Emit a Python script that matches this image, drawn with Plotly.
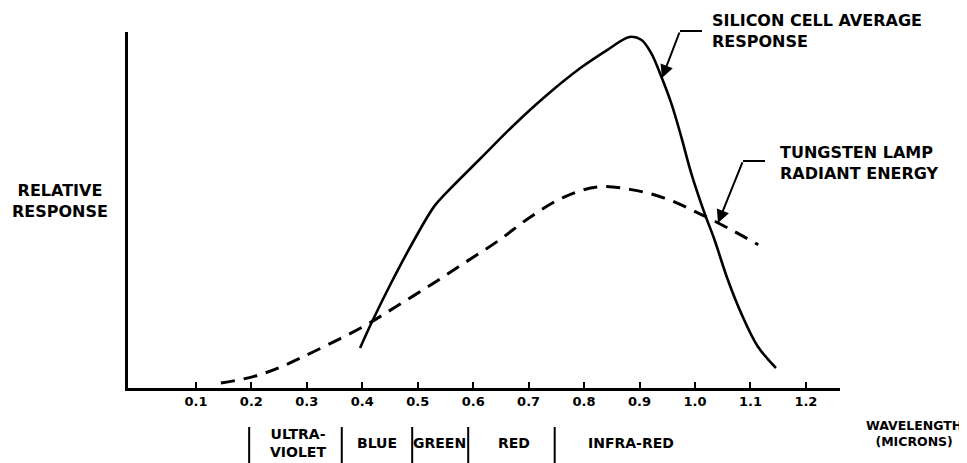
import plotly.graph_objects as go

# ---- data ----
si_x = [0.396, 0.418, 0.452, 0.494, 0.530, 0.554, 0.614, 0.674, 0.734, 0.794, 0.843, 0.882,
        0.903, 0.921, 0.939, 0.957, 0.975, 0.993, 1.017, 1.035, 1.059, 1.083, 1.113, 1.146]
si_y = [11.4, 19.0, 29.9, 42.3, 51.8, 56.0, 65.5, 75.0, 83.6, 91.2, 96.4, 100.0,
        99.2, 95.4, 88.8, 81.2, 71.7, 61.3, 49.9, 42.3, 30.9, 21.4, 11.9, 5.7]

w_x = [0.145, 0.205, 0.253, 0.313, 0.403, 0.464, 0.524, 0.584, 0.644, 0.704, 0.764,
       0.825, 0.885, 0.945, 1.005, 1.065, 1.114]
w_y = [1.4, 3.3, 6.0, 10.4, 17.6, 23.5, 29.4, 35.6, 41.8, 48.8, 54.4,
       57.3, 56.5, 54.1, 49.9, 45.1, 40.8]

tick_vals = [0.1, 0.2, 0.3, 0.4, 0.5, 0.6, 0.7, 0.8, 0.9, 1.0, 1.1, 1.2]
tick_text = ["0.1", "0.2", "0.3", "0.4", "0.5", "0.6", "0.7", "0.8", "0.9", "1.0", "1.1", "1.2"]

band_edges = [0.196, 0.363, 0.490, 0.591, 0.747]
band_names = ["ULTRA-<br>VIOLET", "BLUE", "GREEN", "RED", "INFRA-RED"]
band_label_x = [0.284, 0.427, 0.540, 0.674, 0.885]

X_MIN, X_MAX = -0.0225, 1.2615
Y_MIN, Y_MAX = 0.0, 101.4

FONT = "DejaVu Sans"
BLACK = "#000000"

# The page body adds an 8px margin, so the figure is shrunk and shifted to keep the
# plot area where the reference has it (left 128, top 32, right 840, bottom 388).
OFF = 8
W, H = 967 - OFF, 463 - OFF
PL, PT, PR, PB = 128, 32, 840, 388
PW, PH = PR - PL, PB - PT


def px(xp):
    return (xp - PL) / PW


def py(yp):
    return (PB - yp) / PH


fig = go.Figure()
fig.add_trace(go.Scatter(x=w_x, y=w_y, mode="lines",
                         line=dict(color=BLACK, width=3, dash="14px,9px", shape="spline"),
                         showlegend=False, hoverinfo="skip"))
fig.add_trace(go.Scatter(x=si_x, y=si_y, mode="lines",
                         line=dict(color=BLACK, width=2.6, shape="spline"),
                         showlegend=False, hoverinfo="skip"))

fig.update_layout(
    width=W, height=H,
    margin=dict(l=PL - OFF, r=W - (PR - OFF), t=PT - OFF, b=H - (PB - OFF), pad=0),
    paper_bgcolor="white", plot_bgcolor="white",
    font=dict(family=FONT, color=BLACK, size=13),
    xaxis=dict(range=[X_MIN, X_MAX], showgrid=False, zeroline=False,
               showline=True, linecolor=BLACK, linewidth=2.5,
               ticks="inside", ticklen=6, tickwidth=1.5, tickcolor=BLACK,
               tickvals=tick_vals, ticktext=tick_text,
               tickfont=dict(family=FONT, size=13, weight="bold", color=BLACK)),
    yaxis=dict(range=[Y_MIN, Y_MAX], showgrid=False, zeroline=False,
               showline=True, linecolor=BLACK, linewidth=2.5,
               showticklabels=False, ticks=""),
)

label_font = dict(family=FONT, size=16, weight="bold", color=BLACK)
band_font = dict(family=FONT, size=14, weight="bold", color=BLACK)

# axis title texts
fig.add_annotation(text="RELATIVE<br>RESPONSE", xref="paper", yref="paper",
                   x=px(60), y=py(201), xanchor="center", yanchor="middle",
                   showarrow=False, font=label_font)
fig.add_annotation(text="WAVELENGTH<br>(MICRONS)", xref="paper", yref="paper",
                   x=px(964), y=py(433), xanchor="right", yanchor="middle",
                   align="center", showarrow=False,
                   font=dict(family=FONT, size=12.5, weight="bold", color=BLACK))

# band separators and labels
for e in band_edges:
    fig.add_shape(type="line", xref="x", yref="paper", x0=e, x1=e, y0=py(427), y1=py(463),
                  line=dict(color=BLACK, width=2))
for name, bx in zip(band_names, band_label_x):
    fig.add_annotation(text=name, xref="x", yref="paper", x=bx, y=py(443),
                       xanchor="center", yanchor="middle", showarrow=False, font=band_font)

# curve labels with leader lines
fig.add_annotation(text="SILICON CELL AVERAGE<br>RESPONSE", xref="paper", yref="paper",
                   x=px(710), y=py(9), xanchor="left", yanchor="top",
                   align="left", showarrow=False, font=label_font)
fig.add_annotation(text="TUNGSTEN LAMP<br>RADIANT ENERGY", xref="paper", yref="paper",
                   x=px(778), y=py(141), xanchor="left", yanchor="top",
                   align="left", showarrow=False, font=label_font)

fig.add_shape(type="line", xref="paper", yref="paper",
              x0=px(680), x1=px(702), y0=py(31), y1=py(31), line=dict(color=BLACK, width=2))
fig.add_annotation(x=0.9405, y=88.3, xref="x", yref="y", ax=18, ay=-47, text="",
                   showarrow=True, arrowhead=2, arrowsize=1.3, arrowwidth=2,
                   arrowcolor=BLACK, standoff=0)

fig.add_shape(type="line", xref="paper", yref="paper",
              x0=px(743), x1=px(765), y0=py(161), y1=py(161), line=dict(color=BLACK, width=2))
fig.add_annotation(x=1.0415, y=47.0, xref="x", yref="y", ax=25, ay=-62, text="",
                   showarrow=True, arrowhead=2, arrowsize=1.3, arrowwidth=2,
                   arrowcolor=BLACK, standoff=0)

fig.write_html("out.html")
